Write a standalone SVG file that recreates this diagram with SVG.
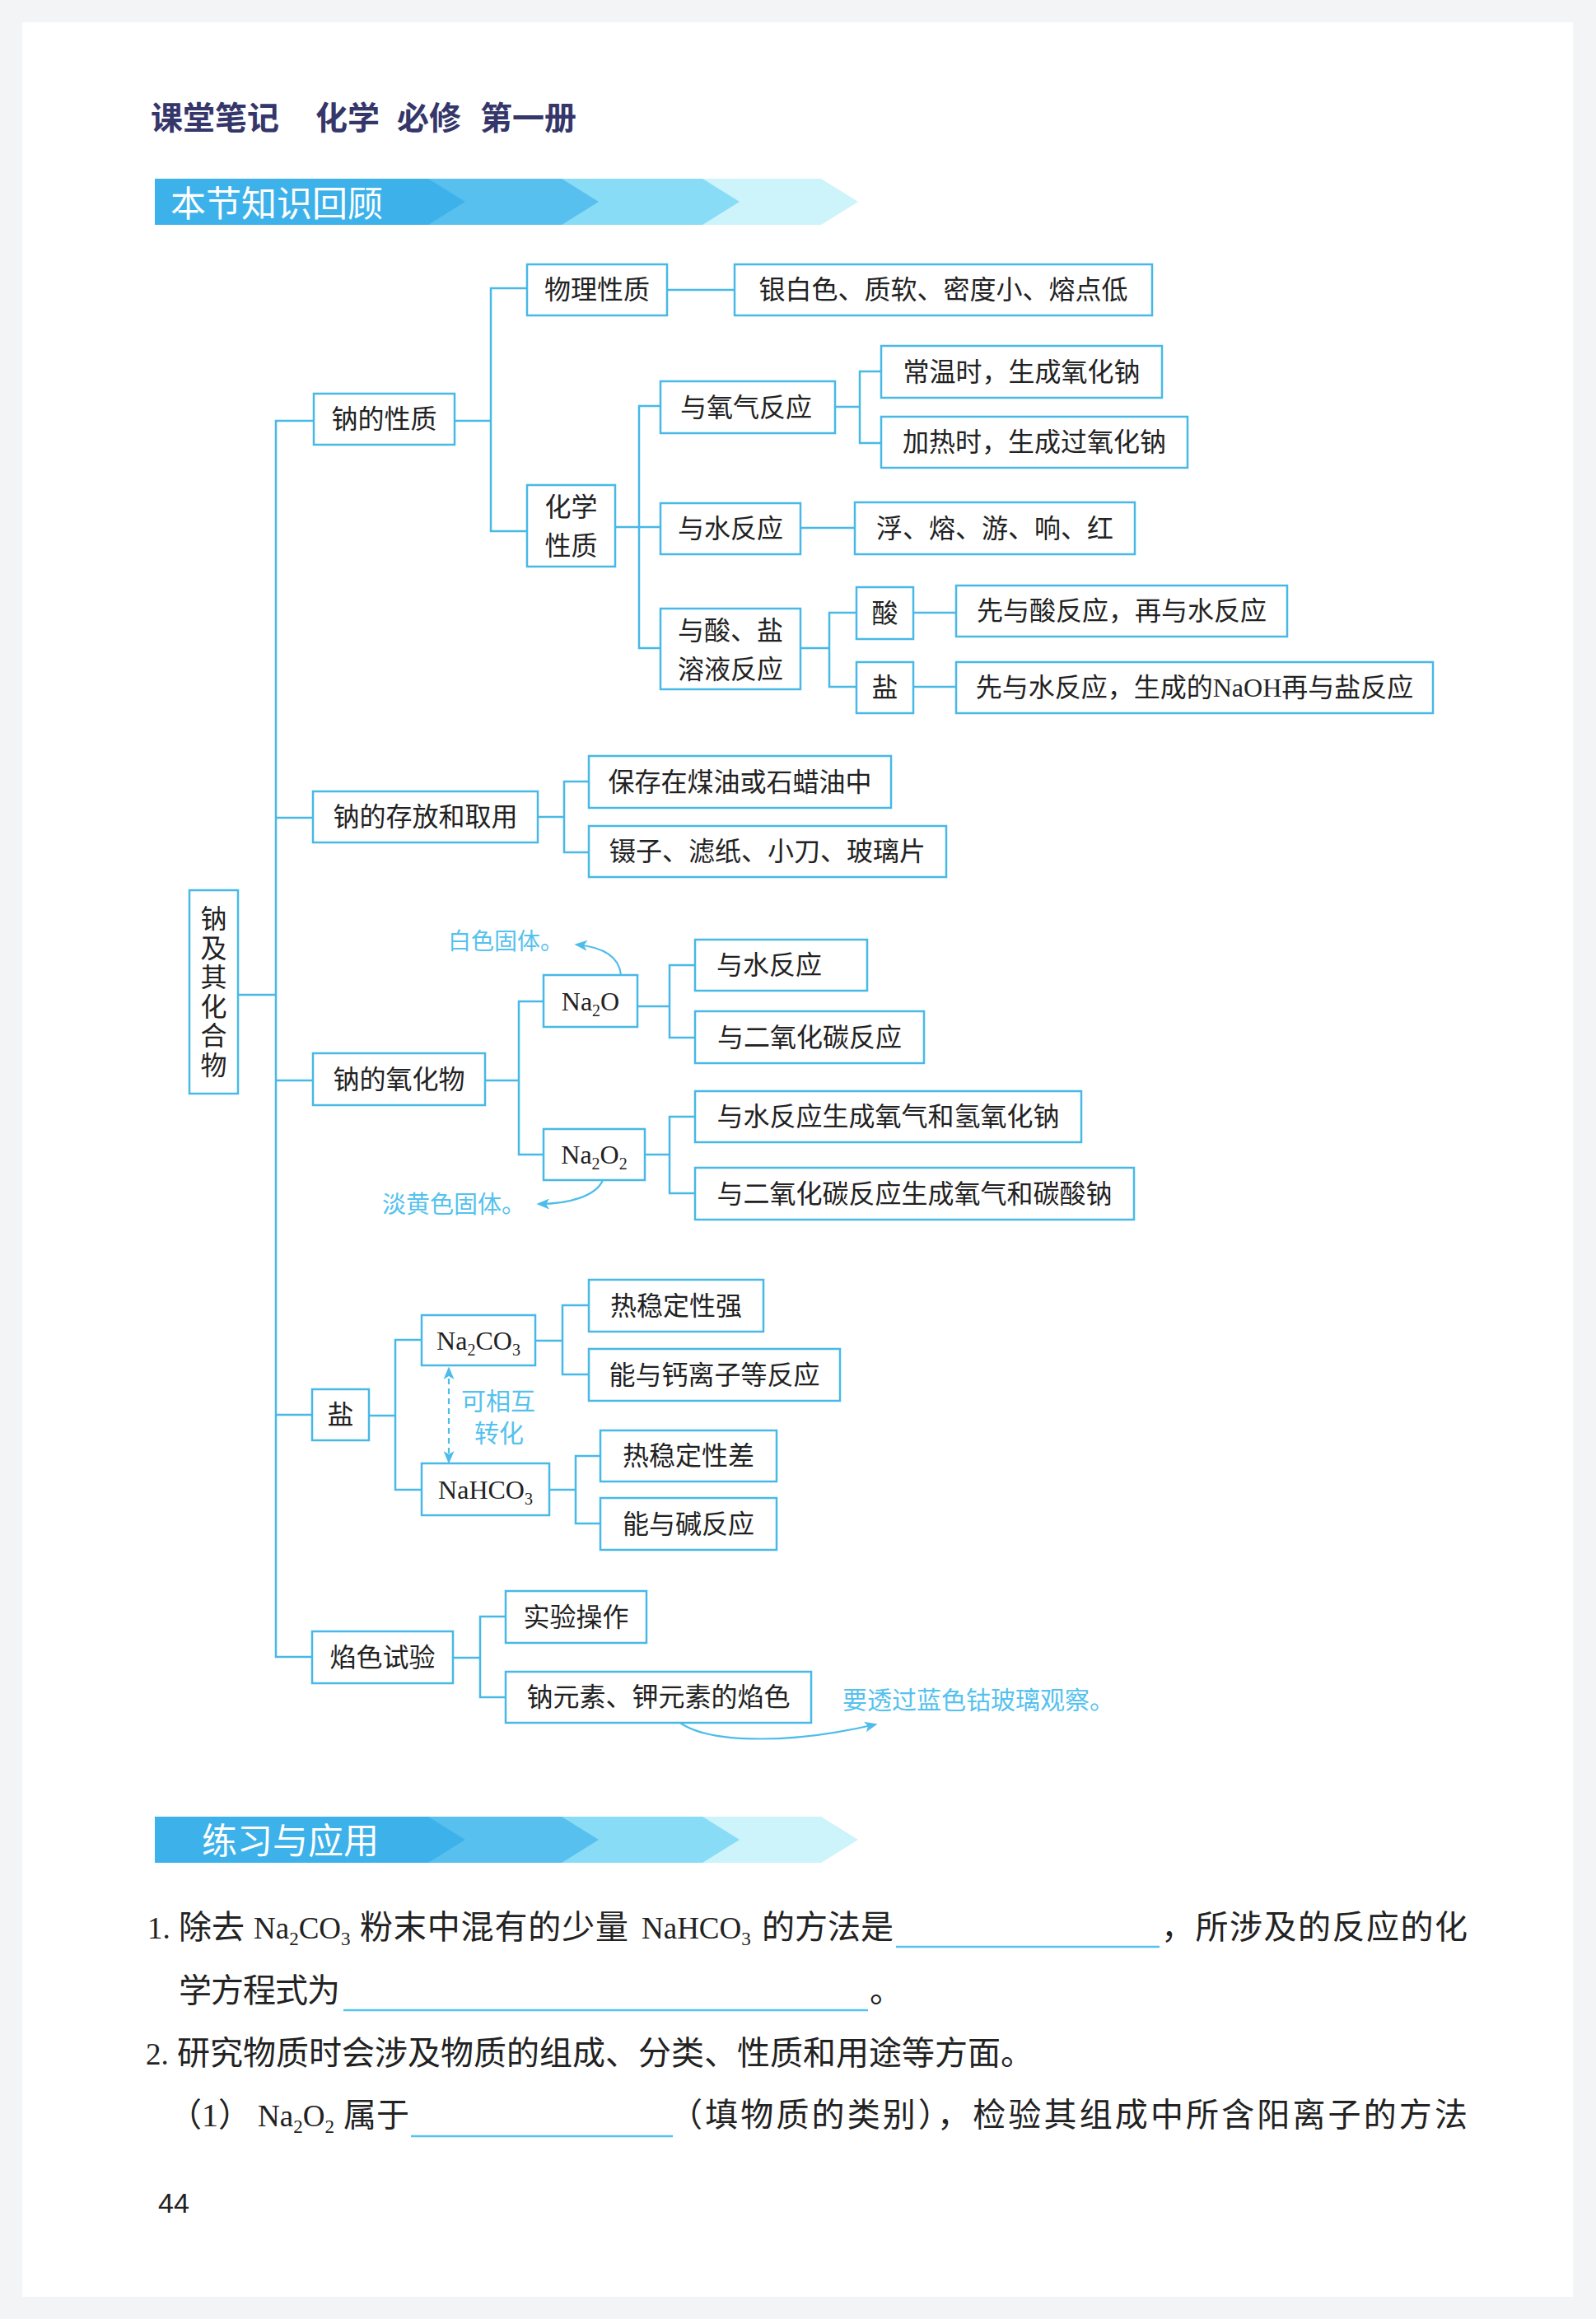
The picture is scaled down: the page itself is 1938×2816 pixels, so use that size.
<svg xmlns="http://www.w3.org/2000/svg" xmlns:xlink="http://www.w3.org/1999/xlink" width="1938" height="2816" viewBox="0 0 1938 2816">
<defs>
<style>
.box{fill:#fff;stroke:#48b9e6;stroke-width:2.5}
.ln{fill:none;stroke:#48b9e6;stroke-width:2.5}
.t{font-family:"Noto Sans CJK SC",sans-serif;font-size:32px;fill:#222;text-anchor:middle}
.ts{font-family:"Noto Sans CJK SC",sans-serif;font-size:32px;fill:#222}
.lat{font-family:"Liberation Serif",serif}
.note{font-family:"Noto Sans CJK SC",sans-serif;fill:#55c1ee}
.arr{fill:none;stroke:#4cbdea;stroke-width:2.2}
.q{font-family:"Noto Sans CJK SC",sans-serif;font-size:40px;fill:#222}
.ql{font-family:"Liberation Serif",serif;font-size:37px;fill:#222}
.ul{stroke:#55c1ee;stroke-width:2.5}
</style>
<marker id="ah" viewBox="0 0 12 10" refX="10" refY="5" markerWidth="16" markerHeight="13" markerUnits="userSpaceOnUse" orient="auto-start-reverse">
<path d="M0,0 L12,5 L0,10 L3,5 z" fill="#4cbdea"/>
</marker>
<g id="banner">
<polygon points="188,217 997,217 1042,245 997,273 188,273" fill="#cdf3fb"/>
<polygon points="188,217 853,217 898,245 853,273 188,273" fill="#88dcf5"/>
<polygon points="188,217 682,217 727,245 682,273 188,273" fill="#58c0ee"/>
<polygon points="188,217 520,217 565,245 520,273 188,273" fill="#3db2ea"/>
</g>
</defs>

<rect x="0" y="0" width="1938" height="2816" fill="#f3f4f5"/>
<rect x="27" y="27" width="1883" height="2762" fill="#ffffff"/>

<!-- header -->
<g id="header" font-family="'Noto Sans CJK SC',sans-serif" font-size="39" font-weight="bold" fill="#35366a">
<text x="183" y="157">课堂笔记</text>
<text x="383" y="157">化学</text>
<text x="482" y="157">必修</text>
<text x="583" y="157">第一册</text>
</g>

<g id="banner1">
<use xlink:href="#banner"/>
<text x="207" y="263" font-family="'Noto Sans CJK SC',sans-serif" font-size="43" fill="#fff">本节知识回顾</text>
</g>

<!-- connectors -->
<g id="connectors">
<path class="ln" d="M381,511 H335 V2012 H379"/>
<path class="ln" d="M335,993 H380"/>
<path class="ln" d="M289,1208 H335"/>
<path class="ln" d="M335,1312 H380"/>
<path class="ln" d="M335,1718 H379"/>

<path class="ln" d="M552,511 H596"/>
<path class="ln" d="M640,350 H596 V645 H640"/>
<path class="ln" d="M810,352 H892"/>
<path class="ln" d="M747,640 H802"/>
<path class="ln" d="M802,493 H776 V787 H802"/>
<path class="ln" d="M1014,494 H1044"/>
<path class="ln" d="M1070,451 H1044 V538 H1070"/>
<path class="ln" d="M972,641 H1038"/>
<path class="ln" d="M972,787 H1007"/>
<path class="ln" d="M1040,744 H1007 V834 H1040"/>
<path class="ln" d="M1109,744 H1161"/>
<path class="ln" d="M1109,834 H1161"/>

<path class="ln" d="M653,992 H685"/>
<path class="ln" d="M715,949 H685 V1035 H715"/>

<path class="ln" d="M589,1312 H630"/>
<path class="ln" d="M660,1216 H630 V1402 H660"/>
<path class="ln" d="M774,1222 H813"/>
<path class="ln" d="M844,1172 H813 V1260 H844"/>
<path class="ln" d="M783,1402 H813"/>
<path class="ln" d="M844,1356 H813 V1449 H844"/>

<path class="ln" d="M448,1719 H480"/>
<path class="ln" d="M512,1627 H480 V1809 H512"/>
<path class="ln" d="M650,1628 H683"/>
<path class="ln" d="M715,1585 H683 V1669 H715"/>
<path class="ln" d="M667,1809 H699"/>
<path class="ln" d="M729,1768 H699 V1850 H729"/>

<path class="ln" d="M550,2013 H583"/>
<path class="ln" d="M614,1963 H583 V2061 H614"/>

<!-- annotation arrows -->
<path class="arr" d="M754,1184 C752,1162 732,1150 700,1147" marker-end="url(#ah)"/>
<path class="arr" d="M732,1433 C724,1452 692,1462 654,1462" marker-end="url(#ah)"/>
<path class="arr" d="M545,1662 V1775" stroke-dasharray="7 5" marker-start="url(#ah)" marker-end="url(#ah)"/>
<path class="arr" d="M816,2083 C846,2120 960,2118 1063,2094" marker-end="url(#ah)"/>
<path d="M763,2081 H858" stroke="#4cbdea" stroke-width="2" stroke-dasharray="6 4"/>
</g>

<!-- nodes -->
<g id="n-root"><rect class="box" x="230" y="1081" width="59" height="247"/>
<text x="259.5" y="1099" writing-mode="vertical-rl" letter-spacing="3.5" font-family="'Noto Sans CJK SC',sans-serif" font-size="32" fill="#222">钠及其化合物</text></g>

<g id="n-xingzhi"><rect class="box" x="381" y="478" width="171" height="62"/><text class="t" x="466.5" y="520">钠的性质</text></g>
<g id="n-wuli"><rect class="box" x="640" y="321" width="170" height="62"/><text class="t" x="725" y="363">物理性质</text></g>
<g id="n-yinbai"><rect class="box" x="892" y="321" width="507" height="62"/><text class="t" x="1145.5" y="363">银白色、质软、密度小、熔点低</text></g>
<g id="n-huaxue"><rect class="box" x="640" y="589" width="107" height="99"/><text class="t" x="693.5" y="626.5">化学</text><text class="t" x="693.5" y="673.5">性质</text></g>
<g id="n-yangqi"><rect class="box" x="802" y="463" width="212" height="63"/><text class="t" x="906" y="505.5">与氧气反应</text></g>
<g id="n-changwen"><rect class="box" x="1070" y="420" width="341" height="63"/><text class="t" x="1240.5" y="462.5">常温时，生成氧化钠</text></g>
<g id="n-jiare"><rect class="box" x="1070" y="506" width="372" height="62"/><text class="t" x="1256" y="548">加热时，生成过氧化钠</text></g>
<g id="n-shui"><rect class="box" x="802" y="611" width="170" height="62"/><text class="t" x="887" y="653">与水反应</text></g>
<g id="n-fu"><rect class="box" x="1038" y="610" width="340" height="63"/><text class="t" x="1208" y="652.5">浮、熔、游、响、红</text></g>
<g id="n-suanyan"><rect class="box" x="802" y="739" width="170" height="98"/><text class="t" x="887" y="776.5">与酸、盐</text><text class="t" x="887" y="823.5">溶液反应</text></g>
<g id="n-suan"><rect class="box" x="1040" y="713" width="69" height="63"/><text class="t" x="1074.5" y="755.5">酸</text></g>
<g id="n-suan-r"><rect class="box" x="1161" y="711" width="402" height="62"/><text class="t" x="1362" y="753">先与酸反应，再与水反应</text></g>
<g id="n-yan1"><rect class="box" x="1040" y="804" width="69" height="62"/><text class="t" x="1074.5" y="846">盐</text></g>
<g id="n-yan1-r"><rect class="box" x="1161" y="804" width="579" height="62"/><text class="t" x="1450.5" y="846">先与水反应，生成的<tspan class="lat">NaOH</tspan>再与盐反应</text></g>

<g id="n-cunfang"><rect class="box" x="380" y="961" width="273" height="62"/><text class="t" x="516.5" y="1003">钠的存放和取用</text></g>
<g id="n-baocun"><rect class="box" x="715" y="918" width="367" height="63"/><text class="t" x="898.5" y="960.5">保存在煤油或石蜡油中</text></g>
<g id="n-niezi"><rect class="box" x="715" y="1003" width="434" height="62"/><text class="t" x="932" y="1045">镊子、滤纸、小刀、玻璃片</text></g>

<g id="n-yanghuawu"><rect class="box" x="380" y="1279" width="209" height="63"/><text class="t" x="484.5" y="1321.5">钠的氧化物</text></g>
<g id="n-na2o"><rect class="box" x="660" y="1184" width="114" height="63"/><text class="t lat" x="717" y="1227">Na<tspan font-size="20" dy="7">2</tspan><tspan dy="-7">O</tspan></text></g>
<g id="n-shui2"><rect class="box" x="844" y="1141" width="209" height="62"/><text class="ts" x="870" y="1183">与水反应</text></g>
<g id="n-co2"><rect class="box" x="844" y="1228" width="278" height="63"/><text class="t" x="983" y="1270.5">与二氧化碳反应</text></g>
<g id="n-na2o2"><rect class="box" x="660" y="1371" width="123" height="62"/><text class="t lat" x="721.5" y="1413">Na<tspan font-size="20" dy="7">2</tspan><tspan dy="-7">O</tspan><tspan font-size="20" dy="7">2</tspan></text></g>
<g id="n-o2a"><rect class="box" x="844" y="1325" width="469" height="62"/><text class="t" x="1078.5" y="1367">与水反应生成氧气和氢氧化钠</text></g>
<g id="n-o2b"><rect class="box" x="844" y="1418" width="533" height="63"/><text class="t" x="1110.5" y="1460.5">与二氧化碳反应生成氧气和碳酸钠</text></g>

<g id="n-yan"><rect class="box" x="379" y="1687" width="69" height="62"/><text class="t" x="413.5" y="1729">盐</text></g>
<g id="n-na2co3"><rect class="box" x="512" y="1597" width="138" height="61"/><text class="t lat" x="581" y="1638.5">Na<tspan font-size="20" dy="7">2</tspan><tspan dy="-7">CO</tspan><tspan font-size="20" dy="7">3</tspan></text></g>
<g id="n-qiang"><rect class="box" x="715" y="1554" width="212" height="63"/><text class="t" x="821" y="1596.5">热稳定性强</text></g>
<g id="n-gai"><rect class="box" x="715" y="1638" width="305" height="63"/><text class="t" x="867.5" y="1680.5">能与钙离子等反应</text></g>
<g id="n-nahco3"><rect class="box" x="512" y="1777" width="155" height="63"/><text class="t lat" x="589.5" y="1819.5">NaHCO<tspan font-size="20" dy="7">3</tspan></text></g>
<g id="n-cha"><rect class="box" x="729" y="1737" width="214" height="62"/><text class="t" x="836" y="1779">热稳定性差</text></g>
<g id="n-jian"><rect class="box" x="729" y="1819" width="214" height="63"/><text class="t" x="836" y="1861.5">能与碱反应</text></g>

<g id="n-yanse"><rect class="box" x="379" y="1981" width="171" height="63"/><text class="t" x="464.5" y="2023.5">焰色试验</text></g>
<g id="n-shiyan"><rect class="box" x="614" y="1932" width="171" height="63"/><text class="t" x="699.5" y="1974.5">实验操作</text></g>
<g id="n-nak"><rect class="box" x="614" y="2030" width="371" height="62"/><text class="t" x="799.5" y="2072">钠元素、钾元素的焰色</text></g>

<!-- notes -->
<g id="notes">
<text class="note" x="544" y="1153" font-size="28">白色固体。</text>
<text class="note" x="464" y="1473" font-size="29">淡黄色固体。</text>
<text class="note" x="560" y="1712" font-size="30">可相互</text>
<text class="note" x="576" y="1751" font-size="30">转化</text>
<text class="note" x="1023" y="2075" font-size="30">要透过蓝色钴玻璃观察。</text>
</g>

<g id="banner2">
<use xlink:href="#banner" y="1989"/>
<text x="245" y="2251" font-family="'Noto Sans CJK SC',sans-serif" font-size="43" fill="#fff">练习与应用</text>
</g>

<!-- questions -->
<g id="questions">
<text class="ql" x="179" y="2354">1.</text>
<text class="q" x="217" y="2354">除去</text>
<text class="ql" x="308" y="2354">Na<tspan font-size="23" dy="8">2</tspan><tspan dy="-8">CO</tspan><tspan font-size="23" dy="8">3</tspan></text>
<text class="q" x="437" y="2354" textLength="326">粉末中混有的少量</text>
<text class="ql" x="779" y="2354">NaHCO<tspan font-size="23" dy="8">3</tspan></text>
<text class="q" x="925" y="2354" textLength="160">的方法是</text>
<line class="ul" x1="1088" y1="2364" x2="1408" y2="2364"/>
<text class="q" x="1410" y="2354" textLength="372">，所涉及的反应的化</text>

<text class="q" x="217" y="2431" textLength="196">学方程式为</text>
<line class="ul" x1="417" y1="2441" x2="1054" y2="2441"/>
<text class="q" x="1056" y="2431">。</text>

<text class="ql" x="177" y="2507">2.</text>
<text class="q" x="215" y="2507" textLength="1040">研究物质时会涉及物质的组成、分类、性质和用途等方面。</text>

<text class="q" x="205" y="2582">（<tspan class="lat">1</tspan>）</text>
<text class="ql" x="313" y="2582">Na<tspan font-size="23" dy="8">2</tspan><tspan dy="-8">O</tspan><tspan font-size="23" dy="8">2</tspan></text>
<text class="q" x="417" y="2582">属于</text>
<line class="ul" x1="499" y1="2594" x2="817" y2="2594"/>
<text class="q" x="813" y="2582" textLength="969">（填物质的类别），检验其组成中所含阳离子的方法</text>

<text x="192" y="2687" font-family="'Liberation Sans',sans-serif" font-size="34" fill="#222">44</text>
</g>
</svg>
